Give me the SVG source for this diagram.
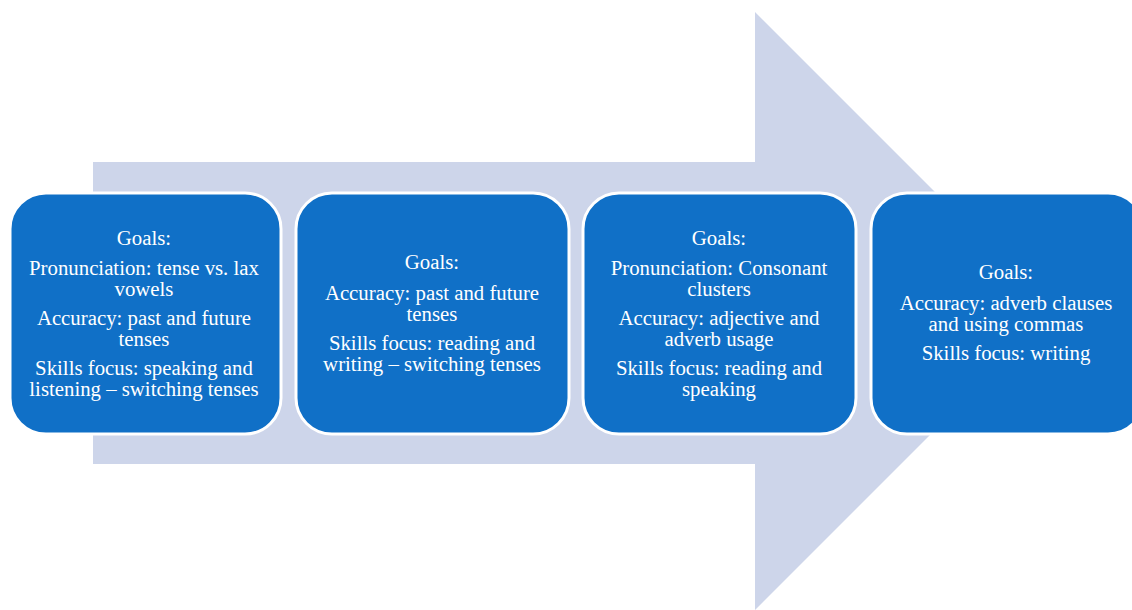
<svg xmlns="http://www.w3.org/2000/svg" width="1132" height="610" viewBox="0 0 1132 610">
<style>
.box{fill:#1070c7;stroke:#ffffff;stroke-width:3}
.t{font-family:"Liberation Serif","DejaVu Serif",serif;font-size:20.8px;fill:#ffffff;text-anchor:middle}
</style>
<rect width="1132" height="610" fill="#ffffff"/>
<g id="arrow">
<polygon points="93,162 755,162 755,12 1054,311 755,610 755,464 93,464" fill="#cdd5ea"/>
</g>
<g id="connectors"></g>
<g id="node1">
<rect class="box" x="10" y="193" width="271" height="241" rx="36"/>
<text class="t" x="144" y="245">Goals:</text>
<text class="t" x="144" y="275">Pronunciation: tense vs. lax</text>
<text class="t" x="144" y="296">vowels</text>
<text class="t" x="144" y="325">Accuracy: past and future</text>
<text class="t" x="144" y="346">tenses</text>
<text class="t" x="144" y="375">Skills focus: speaking and</text>
<text class="t" x="144" y="396">listening – switching tenses</text>
</g>
<g id="node2">
<rect class="box" x="296" y="193" width="273" height="241" rx="36"/>
<text class="t" x="432" y="269">Goals:</text>
<text class="t" x="432" y="300">Accuracy: past and future</text>
<text class="t" x="432" y="321">tenses</text>
<text class="t" x="432" y="350">Skills focus: reading and</text>
<text class="t" x="432" y="371">writing – switching tenses</text>
</g>
<g id="node3">
<rect class="box" x="583" y="193" width="273" height="241" rx="36"/>
<text class="t" x="719" y="245">Goals:</text>
<text class="t" x="719" y="275">Pronunciation: Consonant</text>
<text class="t" x="719" y="296">clusters</text>
<text class="t" x="719" y="325">Accuracy: adjective and</text>
<text class="t" x="719" y="346">adverb usage</text>
<text class="t" x="719" y="375">Skills focus: reading and</text>
<text class="t" x="719" y="396">speaking</text>
</g>
<g id="node4">
<rect class="box" x="871" y="193" width="273" height="241" rx="36"/>
<text class="t" x="1006" y="279">Goals:</text>
<text class="t" x="1006" y="310">Accuracy: adverb clauses</text>
<text class="t" x="1006" y="331">and using commas</text>
<text class="t" x="1006" y="360">Skills focus: writing</text>
</g>
</svg>
